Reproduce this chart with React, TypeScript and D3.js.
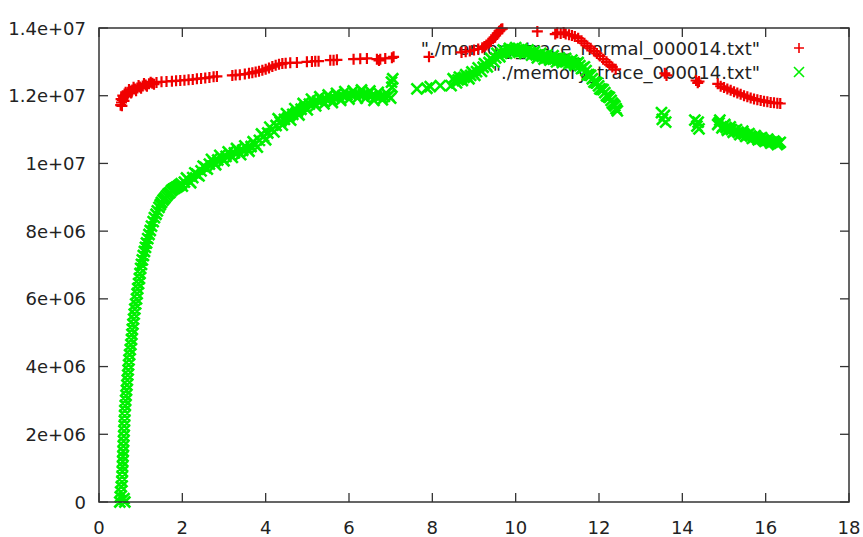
import React from "react";
import * as d3 from "d3";

const xTicks = [0, 2, 4, 6, 8, 10, 12, 14, 16, 18];
const yTicks = [0, 2e6, 4e6, 6e6, 8e6, 1e7, 1.2e7, 1.4e7];
const yTickLabels = ["0", "2e+06", "4e+06", "6e+06", "8e+06", "1e+07", "1.2e+07", "1.4e+07"];
const seriesNames = ['"./memory_trace_normal_000014.txt"', '"./memory_trace_000014.txt"'];

const redPoints: [number, number][] = [
  [0.52, 11.72e6], [0.54, 11.8e6], [0.56, 11.88e6], [0.59, 11.95e6], [0.62, 12.0e6], [0.66, 12.05e6],
  [0.7, 12.1e6], [0.75, 12.14e6], [0.8, 12.17e6], [0.86, 12.2e6], [0.92, 12.23e6], [0.98, 12.26e6],
  [1.05, 12.29e6], [1.12, 12.32e6], [1.2, 12.35e6], [1.28, 12.37e6], [1.38, 12.39e6], [1.5, 12.41e6],
  [0.53, 11.9e6], [0.55, 11.7e6], [0.57, 12.0e6], [0.6, 11.85e6], [0.64, 12.1e6], [0.68, 11.98e6],
  [0.72, 12.18e6], [0.77, 12.08e6], [0.83, 12.25e6], [0.89, 12.15e6], [0.95, 12.3e6], [1.01, 12.22e6],
  [1.08, 12.36e6], [1.15, 12.28e6], [1.24, 12.4e6], [1.32, 12.34e6],
  [1.62, 12.42e6], [1.75, 12.43e6], [1.85, 12.44e6], [1.95, 12.45e6], [2.05, 12.46e6], [2.15, 12.47e6],
  [2.25, 12.48e6], [2.35, 12.5e6], [2.45, 12.51e6], [2.55, 12.52e6], [2.65, 12.54e6], [2.75, 12.56e6],
  [2.83, 12.57e6], [3.2, 12.6e6], [3.28, 12.61e6], [3.38, 12.62e6], [3.5, 12.64e6], [3.6, 12.66e6],
  [3.68, 12.68e6], [3.76, 12.7e6], [3.84, 12.72e6], [3.92, 12.75e6], [4.0, 12.78e6], [4.08, 12.82e6],
  [4.16, 12.86e6], [4.24, 12.9e6], [4.32, 12.93e6], [4.4, 12.95e6], [4.48, 12.96e6], [4.59, 12.97e6],
  [4.75, 12.98e6], [4.99, 13.0e6], [5.11, 13.01e6], [5.19, 13.02e6], [5.27, 13.02e6], [5.55, 13.05e6],
  [5.63, 13.05e6], [5.71, 13.06e6], [6.11, 13.08e6], [6.27, 13.09e6], [6.43, 13.1e6], [6.67, 13.08e6],
  [6.72, 13.04e6], [6.75, 13.08e6], [6.87, 13.1e6], [7.03, 13.12e6], [7.07, 13.15e6], [7.92, 13.15e6],
  [8.7, 13.28e6], [8.8, 13.3e6], [8.9, 13.32e6], [9.0, 13.35e6], [9.1, 13.38e6], [9.2, 13.42e6],
  [9.25, 13.45e6], [9.3, 13.5e6], [9.35, 13.55e6], [9.4, 13.6e6], [9.45, 13.68e6], [9.48, 13.72e6],
  [9.52, 13.78e6], [9.56, 13.84e6], [9.6, 13.9e6], [9.62, 13.92e6], [9.65, 13.96e6], [9.68, 13.98e6],
  [10.52, 13.9e6], [10.95, 13.82e6], [11.0, 13.86e6], [11.08, 13.84e6], [11.15, 13.87e6], [11.2, 13.82e6],
  [11.28, 13.8e6], [11.35, 13.78e6], [11.42, 13.75e6], [11.5, 13.7e6], [11.58, 13.62e6], [11.65, 13.55e6],
  [11.72, 13.47e6], [11.8, 13.4e6], [11.88, 13.32e6], [11.95, 13.25e6], [12.02, 13.17e6], [12.1, 13.08e6],
  [12.18, 13.0e6], [12.25, 12.92e6], [12.32, 12.85e6], [12.4, 12.78e6], [13.58, 12.66e6], [13.62, 12.6e6],
  [14.33, 12.45e6], [14.37, 12.38e6], [14.4, 12.42e6], [14.85, 12.35e6], [14.92, 12.28e6], [15.0, 12.24e6],
  [15.08, 12.2e6], [15.16, 12.16e6], [15.24, 12.12e6], [15.32, 12.08e6], [15.4, 12.04e6], [15.48, 12.0e6],
  [15.56, 11.97e6], [15.64, 11.93e6], [15.72, 11.9e6], [15.8, 11.88e6], [15.88, 11.86e6], [15.96, 11.84e6],
  [16.04, 11.82e6], [16.12, 11.8e6], [16.2, 11.79e6], [16.28, 11.78e6], [16.35, 11.77e6],
];

const greenPoints: [number, number][] = [
  [0.5, 0.0], [0.62, 0.0], [0.52, 0.3e6], [0.55, 0.6e6], [0.56, 0.9e6], [0.57, 1.2e6], [0.58, 1.5e6],
  [0.59, 1.8e6], [0.6, 2.1e6], [0.61, 2.4e6], [0.62, 2.7e6], [0.64, 3.0e6], [0.66, 3.3e6], [0.68, 3.6e6],
  [0.7, 3.9e6], [0.72, 4.2e6], [0.75, 4.5e6], [0.78, 4.8e6], [0.8, 5.1e6], [0.83, 5.4e6], [0.86, 5.7e6],
  [0.9, 6.0e6], [0.93, 6.3e6], [0.97, 6.6e6], [1.0, 6.9e6], [1.04, 7.15e6], [1.09, 7.4e6], [1.14, 7.65e6],
  [1.2, 7.9e6], [1.26, 8.15e6], [1.33, 8.4e6], [1.4, 8.6e6], [1.47, 8.78e6], [1.54, 8.92e6], [1.62, 9.04e6],
  [1.7, 9.14e6], [1.78, 9.24e6], [1.86, 9.3e6], [1.93, 9.36e6],
  [0.51, 0.15e6], [0.6, 0.1e6], [0.535, 0.45e6], [0.555, 0.75e6], [0.565, 1.05e6], [0.575, 1.35e6],
  [0.585, 1.65e6], [0.595, 1.95e6], [0.605, 2.25e6], [0.615, 2.55e6], [0.63, 2.85e6], [0.65, 3.15e6],
  [0.67, 3.45e6], [0.69, 3.75e6], [0.71, 4.05e6], [0.735, 4.35e6], [0.765, 4.65e6], [0.79, 4.95e6],
  [0.815, 5.25e6], [0.845, 5.55e6], [0.88, 5.85e6], [0.915, 6.15e6], [0.95, 6.45e6], [0.985, 6.75e6],
  [1.02, 7.02e6], [1.065, 7.28e6], [1.115, 7.52e6], [1.17, 7.78e6], [1.23, 8.02e6], [1.3, 8.28e6],
  [1.37, 8.5e6], [1.44, 8.7e6], [1.5, 8.85e6], [1.58, 8.98e6], [1.66, 9.1e6], [1.74, 9.2e6],
  [1.82, 9.27e6], [1.9, 9.33e6], [1.97, 9.4e6],
  [2.0, 9.33e6], [2.1, 9.57e6], [2.2, 9.43e6], [2.3, 9.72e6], [2.4, 9.63e6], [2.5, 9.92e6], [2.6, 9.83e6],
  [2.7, 10.12e6], [2.8, 9.96e6], [2.9, 10.24e6], [3.0, 10.08e6], [3.1, 10.34e6], [3.2, 10.18e6], [3.3, 10.44e6],
  [3.4, 10.26e6], [3.5, 10.52e6], [3.6, 10.36e6], [3.7, 10.64e6], [3.8, 10.48e6], [3.9, 10.87e6], [4.0, 10.7e6],
  [4.1, 11.07e6], [4.2, 10.93e6], [4.3, 11.32e6], [4.4, 11.13e6], [4.5, 11.47e6], [4.6, 11.28e6], [4.7, 11.62e6],
  [4.8, 11.43e6], [4.9, 11.77e6], [5.0, 11.58e6], [5.1, 11.9e6], [5.2, 11.7e6], [5.3, 11.97e6], [5.4, 11.76e6],
  [5.5, 12.02e6], [5.6, 11.8e6], [5.7, 12.07e6], [5.8, 11.86e6], [5.9, 12.12e6], [6.0, 11.9e6], [6.1, 12.14e6],
  [6.2, 11.93e6], [6.3, 12.17e6], [6.4, 11.93e6], [6.5, 12.14e6], [6.6, 11.86e6], [6.7, 12.1e6], [6.8, 11.88e6],
  [6.9, 12.07e6], [7.0, 11.93e6], [7.03, 12.25e6], [7.05, 12.5e6], [7.02, 12.4e6],
  [2.05, 9.45e6], [2.15, 9.5e6], [2.25, 9.58e6], [2.35, 9.68e6], [2.45, 9.78e6], [2.55, 9.88e6],
  [2.65, 9.98e6], [2.75, 10.04e6], [2.85, 10.1e6], [2.95, 10.16e6], [3.05, 10.21e6], [3.15, 10.26e6],
  [3.25, 10.31e6], [3.35, 10.35e6], [3.45, 10.39e6], [3.55, 10.44e6], [3.65, 10.5e6], [3.75, 10.56e6],
  [3.85, 10.68e6], [3.95, 10.8e6], [4.05, 10.9e6], [4.15, 11.0e6], [4.25, 11.12e6], [4.35, 11.22e6],
  [4.45, 11.3e6], [4.55, 11.38e6], [4.65, 11.45e6], [4.75, 11.52e6], [4.85, 11.6e6], [4.95, 11.68e6],
  [5.05, 11.75e6], [5.15, 11.8e6], [5.25, 11.84e6], [5.35, 11.87e6], [5.45, 11.9e6], [5.55, 11.92e6],
  [5.65, 11.94e6], [5.75, 11.97e6], [5.85, 12.0e6], [5.95, 12.02e6], [6.05, 12.03e6], [6.15, 12.04e6],
  [6.25, 12.05e6], [6.35, 12.05e6], [6.45, 12.04e6], [6.55, 12.0e6], [6.65, 11.98e6], [6.75, 11.98e6],
  [6.85, 11.98e6], [6.95, 12.0e6],
  [7.63, 12.2e6], [7.87, 12.22e6], [7.95, 12.27e6], [8.19, 12.3e6],
  [8.45, 12.3e6], [8.5, 12.5e6], [8.58, 12.38e6], [8.65, 12.55e6], [8.72, 12.45e6], [8.8, 12.62e6],
  [8.88, 12.5e6], [8.95, 12.7e6], [9.02, 12.6e6], [9.1, 12.82e6], [9.18, 12.72e6], [9.25, 12.95e6],
  [9.32, 12.85e6], [9.4, 13.1e6], [9.48, 13.0e6], [9.55, 13.25e6], [9.62, 13.15e6], [9.7, 13.35e6],
  [9.78, 13.25e6], [9.85, 13.4e6], [9.92, 13.3e6], [10.0, 13.42e6], [10.08, 13.28e6], [10.15, 13.38e6],
  [10.22, 13.25e6], [10.3, 13.35e6], [10.38, 13.2e6], [10.45, 13.3e6], [10.52, 13.12e6], [10.6, 13.25e6],
  [10.68, 13.08e6], [10.75, 13.2e6], [10.82, 13.05e6], [10.9, 13.18e6], [10.98, 13.0e6], [11.05, 13.12e6],
  [11.12, 12.98e6], [11.2, 13.1e6], [11.28, 12.95e6], [11.35, 13.05e6], [11.42, 12.9e6], [11.5, 12.98e6],
  [11.58, 12.8e6], [11.65, 12.85e6], [11.72, 12.62e6], [11.8, 12.6e6], [11.88, 12.4e6], [11.95, 12.38e6],
  [12.02, 12.2e6], [12.1, 12.18e6], [12.18, 12.0e6], [12.25, 11.95e6], [12.32, 11.78e6], [12.38, 11.7e6],
  [12.44, 11.55e6],
  [8.54, 12.44e6], [8.62, 12.47e6], [8.69, 12.5e6], [8.76, 12.54e6], [8.84, 12.56e6], [8.92, 12.6e6],
  [8.99, 12.65e6], [9.06, 12.71e6], [9.14, 12.77e6], [9.22, 12.84e6], [9.29, 12.9e6], [9.36, 12.98e6],
  [9.44, 13.05e6], [9.52, 13.12e6], [9.59, 13.2e6], [9.66, 13.25e6], [9.74, 13.3e6], [9.82, 13.33e6],
  [9.89, 13.35e6], [9.96, 13.36e6], [10.04, 13.35e6], [10.12, 13.33e6], [10.19, 13.31e6], [10.26, 13.3e6],
  [10.34, 13.28e6], [10.42, 13.25e6], [10.49, 13.21e6], [10.56, 13.19e6], [10.64, 13.16e6], [10.72, 13.14e6],
  [10.79, 13.12e6], [10.86, 13.11e6], [10.94, 13.09e6], [11.02, 13.06e6], [11.09, 13.05e6], [11.16, 13.04e6],
  [11.24, 13.02e6], [11.32, 13.0e6], [11.39, 12.97e6], [11.46, 12.94e6], [11.54, 12.89e6], [11.62, 12.82e6],
  [11.69, 12.74e6], [11.76, 12.62e6], [11.84, 12.5e6], [11.92, 12.39e6], [11.99, 12.29e6], [12.06, 12.19e6],
  [12.14, 12.09e6], [12.22, 11.97e6], [12.29, 11.86e6], [12.35, 11.74e6], [12.41, 11.62e6],
  [13.5, 11.5e6], [13.52, 11.3e6], [13.57, 11.42e6], [13.6, 11.22e6],
  [14.3, 11.28e6], [14.35, 11.1e6], [14.38, 11.22e6], [14.4, 11.02e6],
  [14.85, 11.15e6], [14.9, 11.28e6], [14.95, 11.05e6], [15.02, 11.15e6], [15.08, 10.98e6], [15.15, 11.08e6],
  [15.22, 10.92e6], [15.3, 11.0e6], [15.38, 10.85e6], [15.45, 10.95e6], [15.52, 10.8e6], [15.6, 10.88e6],
  [15.68, 10.74e6], [15.75, 10.82e6], [15.82, 10.7e6], [15.9, 10.76e6], [15.98, 10.65e6], [16.05, 10.72e6],
  [16.12, 10.6e6], [16.2, 10.66e6], [16.28, 10.56e6], [16.35, 10.62e6],
  [14.88, 11.2e6], [14.98, 11.1e6], [15.05, 11.06e6], [15.12, 11.02e6], [15.18, 11.0e6], [15.26, 10.96e6],
  [15.34, 10.92e6], [15.42, 10.9e6], [15.48, 10.87e6], [15.56, 10.84e6], [15.64, 10.81e6], [15.72, 10.78e6],
  [15.79, 10.76e6], [15.86, 10.73e6], [15.94, 10.7e6], [16.02, 10.68e6], [16.09, 10.66e6], [16.16, 10.63e6],
  [16.24, 10.61e6], [16.32, 10.59e6],
];

const W = 863;
const H = 537;
const M = { left: 99, right: 849, top: 28, bottom: 502 };
const RED = "#f00000";
const GREEN = "#00f000";
const FONT = "DejaVu Sans, sans-serif";
const FS = 18;

const plus = (cx: number, cy: number, s: number) =>
  `M${cx - s},${cy}H${cx + s}M${cx},${cy - s}V${cy + s}`;
const cross = (cx: number, cy: number, s: number) =>
  `M${cx - s},${cy - s}L${cx + s},${cy + s}M${cx - s},${cy + s}L${cx + s},${cy - s}`;

export default function App() {
  const x = d3.scaleLinear().domain([0, 18]).range([M.left, M.right]);
  const y = d3.scaleLinear().domain([0, 1.4e7]).range([M.bottom, M.top]);
  const tick = 9;
  const axisColor = "#333";

  const redPath = redPoints.map(([a, b]) => plus(x(a), y(b), 5.5)).join("");
  const greenPath = greenPoints.map(([a, b]) => cross(x(a), y(b), 5.5)).join("");

  return (
    <svg width={W} height={H} style={{ position: "absolute", left: 0, top: 0, background: "#fff" }}>
      <rect x={0} y={0} width={W} height={H} fill="#fff" />
      {xTicks.map((t) => (
        <g key={"x" + t}>
          <line x1={x(t)} x2={x(t)} y1={M.bottom} y2={M.bottom - tick} stroke={axisColor} strokeWidth={1.3} />
          <line x1={x(t)} x2={x(t)} y1={M.top} y2={M.top + tick} stroke={axisColor} strokeWidth={1.3} />
          <text x={x(t)} y={527} textAnchor="middle" dominantBaseline="central" fontFamily={FONT} fontSize={FS} fill="#222">
            {t}
          </text>
        </g>
      ))}
      {yTicks.map((t, i) => (
        <g key={"y" + t}>
          <line x1={M.left} x2={M.left + tick} y1={y(t)} y2={y(t)} stroke={axisColor} strokeWidth={1.3} />
          <line x1={M.right} x2={M.right - tick} y1={y(t)} y2={y(t)} stroke={axisColor} strokeWidth={1.3} />
          <text x={86} y={y(t)} textAnchor="end" dominantBaseline="central" fontFamily={FONT} fontSize={FS} fill="#222">
            {yTickLabels[i]}
          </text>
        </g>
      ))}
      <text x={760} y={48} textAnchor="end" dominantBaseline="central" fontFamily={FONT} fontSize={FS} fill="#222">
        {seriesNames[0]}
      </text>
      <text x={760} y={72} textAnchor="end" dominantBaseline="central" fontFamily={FONT} fontSize={FS} fill="#222">
        {seriesNames[1]}
      </text>
      <path d={plus(799, 48, 5)} stroke={RED} strokeWidth={1.6} fill="none" />
      <path d={cross(799, 72, 5)} stroke={GREEN} strokeWidth={1.6} fill="none" />
      <path d={redPath} stroke={RED} strokeWidth={2.2} fill="none" />
      <path d={greenPath} stroke={GREEN} strokeWidth={2.6} fill="none" />
      <rect x={M.left} y={M.top} width={M.right - M.left} height={M.bottom - M.top} fill="none" stroke={axisColor} strokeWidth={1.5} />
    </svg>
  );
}
